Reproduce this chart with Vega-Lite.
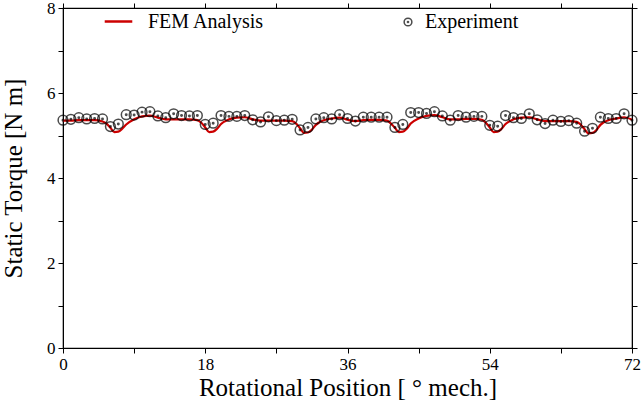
{
  "$schema": "https://vega.github.io/schema/vega-lite/v6.json",
  "width": 569,
  "height": 340,
  "autosize": "none",
  "padding": {"left": 63, "top": 8, "right": 10, "bottom": 52},
  "background": "white",
  "config": {
    "view": {"stroke": "black", "strokeWidth": 1.2},
    "font": "Liberation Serif",
    "axis": {
      "labelFont": "Liberation Serif",
      "titleFont": "Liberation Serif",
      "labelFontSize": 17,
      "titleFontSize": 25,
      "titleFontWeight": "normal",
      "labelColor": "black",
      "titleColor": "black",
      "tickColor": "black",
      "domainColor": "black",
      "tickSize": 5,
      "grid": false
    },
    "legend": {
      "labelFont": "Liberation Serif",
      "labelFontSize": 20,
      "labelColor": "black"
    }
  },
  "datasets": {
    "fem": [
      {"pos": 0, "torque": 5.35, "series": "FEM Analysis"},
      {"pos": 1, "torque": 5.35, "series": "FEM Analysis"},
      {"pos": 2, "torque": 5.36, "series": "FEM Analysis"},
      {"pos": 3, "torque": 5.36, "series": "FEM Analysis"},
      {"pos": 4, "torque": 5.36, "series": "FEM Analysis"},
      {"pos": 5, "torque": 5.33, "series": "FEM Analysis"},
      {"pos": 5.5, "torque": 5.28, "series": "FEM Analysis"},
      {"pos": 6, "torque": 5.18, "series": "FEM Analysis"},
      {"pos": 6.5, "torque": 5.08, "series": "FEM Analysis"},
      {"pos": 7, "torque": 5.09, "series": "FEM Analysis"},
      {"pos": 7.5, "torque": 5.16, "series": "FEM Analysis"},
      {"pos": 8, "torque": 5.26, "series": "FEM Analysis"},
      {"pos": 9, "torque": 5.38, "series": "FEM Analysis"},
      {"pos": 10, "torque": 5.45, "series": "FEM Analysis"},
      {"pos": 11, "torque": 5.47, "series": "FEM Analysis"},
      {"pos": 12, "torque": 5.42, "series": "FEM Analysis"},
      {"pos": 13, "torque": 5.38, "series": "FEM Analysis"},
      {"pos": 14, "torque": 5.38, "series": "FEM Analysis"},
      {"pos": 15, "torque": 5.38, "series": "FEM Analysis"},
      {"pos": 16, "torque": 5.38, "series": "FEM Analysis"},
      {"pos": 17, "torque": 5.36, "series": "FEM Analysis"},
      {"pos": 17.5, "torque": 5.30, "series": "FEM Analysis"},
      {"pos": 18, "torque": 5.19, "series": "FEM Analysis"},
      {"pos": 18.5, "torque": 5.08, "series": "FEM Analysis"},
      {"pos": 19, "torque": 5.09, "series": "FEM Analysis"},
      {"pos": 19.5, "torque": 5.16, "series": "FEM Analysis"},
      {"pos": 20, "torque": 5.27, "series": "FEM Analysis"},
      {"pos": 21, "torque": 5.38, "series": "FEM Analysis"},
      {"pos": 22, "torque": 5.42, "series": "FEM Analysis"},
      {"pos": 23, "torque": 5.43, "series": "FEM Analysis"},
      {"pos": 24, "torque": 5.38, "series": "FEM Analysis"},
      {"pos": 25, "torque": 5.35, "series": "FEM Analysis"},
      {"pos": 26, "torque": 5.35, "series": "FEM Analysis"},
      {"pos": 27, "torque": 5.35, "series": "FEM Analysis"},
      {"pos": 28, "torque": 5.35, "series": "FEM Analysis"},
      {"pos": 29, "torque": 5.34, "series": "FEM Analysis"},
      {"pos": 29.5, "torque": 5.28, "series": "FEM Analysis"},
      {"pos": 30, "torque": 5.17, "series": "FEM Analysis"},
      {"pos": 30.5, "torque": 5.06, "series": "FEM Analysis"},
      {"pos": 31, "torque": 5.07, "series": "FEM Analysis"},
      {"pos": 31.5, "torque": 5.14, "series": "FEM Analysis"},
      {"pos": 32, "torque": 5.25, "series": "FEM Analysis"},
      {"pos": 33, "torque": 5.36, "series": "FEM Analysis"},
      {"pos": 34, "torque": 5.40, "series": "FEM Analysis"},
      {"pos": 35, "torque": 5.42, "series": "FEM Analysis"},
      {"pos": 36, "torque": 5.37, "series": "FEM Analysis"},
      {"pos": 37, "torque": 5.34, "series": "FEM Analysis"},
      {"pos": 38, "torque": 5.36, "series": "FEM Analysis"},
      {"pos": 39, "torque": 5.37, "series": "FEM Analysis"},
      {"pos": 40, "torque": 5.37, "series": "FEM Analysis"},
      {"pos": 41, "torque": 5.35, "series": "FEM Analysis"},
      {"pos": 41.5, "torque": 5.28, "series": "FEM Analysis"},
      {"pos": 42, "torque": 5.18, "series": "FEM Analysis"},
      {"pos": 42.5, "torque": 5.08, "series": "FEM Analysis"},
      {"pos": 43, "torque": 5.09, "series": "FEM Analysis"},
      {"pos": 43.5, "torque": 5.16, "series": "FEM Analysis"},
      {"pos": 44, "torque": 5.28, "series": "FEM Analysis"},
      {"pos": 45, "torque": 5.40, "series": "FEM Analysis"},
      {"pos": 46, "torque": 5.46, "series": "FEM Analysis"},
      {"pos": 47, "torque": 5.48, "series": "FEM Analysis"},
      {"pos": 48, "torque": 5.43, "series": "FEM Analysis"},
      {"pos": 49, "torque": 5.38, "series": "FEM Analysis"},
      {"pos": 50, "torque": 5.38, "series": "FEM Analysis"},
      {"pos": 51, "torque": 5.39, "series": "FEM Analysis"},
      {"pos": 52, "torque": 5.39, "series": "FEM Analysis"},
      {"pos": 53, "torque": 5.37, "series": "FEM Analysis"},
      {"pos": 53.5, "torque": 5.30, "series": "FEM Analysis"},
      {"pos": 54, "torque": 5.19, "series": "FEM Analysis"},
      {"pos": 54.5, "torque": 5.08, "series": "FEM Analysis"},
      {"pos": 55, "torque": 5.09, "series": "FEM Analysis"},
      {"pos": 55.5, "torque": 5.16, "series": "FEM Analysis"},
      {"pos": 56, "torque": 5.27, "series": "FEM Analysis"},
      {"pos": 57, "torque": 5.38, "series": "FEM Analysis"},
      {"pos": 58, "torque": 5.42, "series": "FEM Analysis"},
      {"pos": 59, "torque": 5.43, "series": "FEM Analysis"},
      {"pos": 60, "torque": 5.38, "series": "FEM Analysis"},
      {"pos": 61, "torque": 5.34, "series": "FEM Analysis"},
      {"pos": 62, "torque": 5.34, "series": "FEM Analysis"},
      {"pos": 63, "torque": 5.34, "series": "FEM Analysis"},
      {"pos": 64, "torque": 5.34, "series": "FEM Analysis"},
      {"pos": 65, "torque": 5.32, "series": "FEM Analysis"},
      {"pos": 65.5, "torque": 5.26, "series": "FEM Analysis"},
      {"pos": 66, "torque": 5.15, "series": "FEM Analysis"},
      {"pos": 66.5, "torque": 5.05, "series": "FEM Analysis"},
      {"pos": 67, "torque": 5.06, "series": "FEM Analysis"},
      {"pos": 67.5, "torque": 5.13, "series": "FEM Analysis"},
      {"pos": 68, "torque": 5.25, "series": "FEM Analysis"},
      {"pos": 69, "torque": 5.36, "series": "FEM Analysis"},
      {"pos": 70, "torque": 5.40, "series": "FEM Analysis"},
      {"pos": 71, "torque": 5.43, "series": "FEM Analysis"},
      {"pos": 72, "torque": 5.37, "series": "FEM Analysis"}
    ],
    "exp": [
      {"pos": 0, "torque": 5.36, "series": "Experiment"},
      {"pos": 1, "torque": 5.38, "series": "Experiment"},
      {"pos": 2, "torque": 5.42, "series": "Experiment"},
      {"pos": 3, "torque": 5.39, "series": "Experiment"},
      {"pos": 4, "torque": 5.40, "series": "Experiment"},
      {"pos": 5, "torque": 5.39, "series": "Experiment"},
      {"pos": 6, "torque": 5.21, "series": "Experiment"},
      {"pos": 7, "torque": 5.27, "series": "Experiment"},
      {"pos": 8, "torque": 5.49, "series": "Experiment"},
      {"pos": 9, "torque": 5.48, "series": "Experiment"},
      {"pos": 10, "torque": 5.55, "series": "Experiment"},
      {"pos": 11, "torque": 5.56, "series": "Experiment"},
      {"pos": 12, "torque": 5.46, "series": "Experiment"},
      {"pos": 13, "torque": 5.42, "series": "Experiment"},
      {"pos": 14, "torque": 5.51, "series": "Experiment"},
      {"pos": 15, "torque": 5.47, "series": "Experiment"},
      {"pos": 16, "torque": 5.46, "series": "Experiment"},
      {"pos": 17, "torque": 5.47, "series": "Experiment"},
      {"pos": 18, "torque": 5.26, "series": "Experiment"},
      {"pos": 19, "torque": 5.29, "series": "Experiment"},
      {"pos": 20, "torque": 5.47, "series": "Experiment"},
      {"pos": 21, "torque": 5.45, "series": "Experiment"},
      {"pos": 22, "torque": 5.45, "series": "Experiment"},
      {"pos": 23, "torque": 5.47, "series": "Experiment"},
      {"pos": 24, "torque": 5.37, "series": "Experiment"},
      {"pos": 25, "torque": 5.32, "series": "Experiment"},
      {"pos": 26, "torque": 5.44, "series": "Experiment"},
      {"pos": 27, "torque": 5.35, "series": "Experiment"},
      {"pos": 28, "torque": 5.36, "series": "Experiment"},
      {"pos": 29, "torque": 5.38, "series": "Experiment"},
      {"pos": 30, "torque": 5.13, "series": "Experiment"},
      {"pos": 31, "torque": 5.19, "series": "Experiment"},
      {"pos": 32, "torque": 5.39, "series": "Experiment"},
      {"pos": 33, "torque": 5.42, "series": "Experiment"},
      {"pos": 34, "torque": 5.39, "series": "Experiment"},
      {"pos": 35, "torque": 5.49, "series": "Experiment"},
      {"pos": 36, "torque": 5.40, "series": "Experiment"},
      {"pos": 37, "torque": 5.34, "series": "Experiment"},
      {"pos": 38, "torque": 5.43, "series": "Experiment"},
      {"pos": 39, "torque": 5.43, "series": "Experiment"},
      {"pos": 40, "torque": 5.43, "series": "Experiment"},
      {"pos": 41, "torque": 5.43, "series": "Experiment"},
      {"pos": 42, "torque": 5.19, "series": "Experiment"},
      {"pos": 43, "torque": 5.26, "series": "Experiment"},
      {"pos": 44, "torque": 5.54, "series": "Experiment"},
      {"pos": 45, "torque": 5.54, "series": "Experiment"},
      {"pos": 46, "torque": 5.52, "series": "Experiment"},
      {"pos": 47, "torque": 5.56, "series": "Experiment"},
      {"pos": 48, "torque": 5.46, "series": "Experiment"},
      {"pos": 49, "torque": 5.36, "series": "Experiment"},
      {"pos": 50, "torque": 5.47, "series": "Experiment"},
      {"pos": 51, "torque": 5.43, "series": "Experiment"},
      {"pos": 52, "torque": 5.45, "series": "Experiment"},
      {"pos": 53, "torque": 5.45, "series": "Experiment"},
      {"pos": 54, "torque": 5.24, "series": "Experiment"},
      {"pos": 55, "torque": 5.22, "series": "Experiment"},
      {"pos": 56, "torque": 5.47, "series": "Experiment"},
      {"pos": 57, "torque": 5.42, "series": "Experiment"},
      {"pos": 58, "torque": 5.40, "series": "Experiment"},
      {"pos": 59, "torque": 5.51, "series": "Experiment"},
      {"pos": 60, "torque": 5.37, "series": "Experiment"},
      {"pos": 61, "torque": 5.28, "series": "Experiment"},
      {"pos": 62, "torque": 5.36, "series": "Experiment"},
      {"pos": 63, "torque": 5.33, "series": "Experiment"},
      {"pos": 64, "torque": 5.35, "series": "Experiment"},
      {"pos": 65, "torque": 5.29, "series": "Experiment"},
      {"pos": 66, "torque": 5.10, "series": "Experiment"},
      {"pos": 67, "torque": 5.17, "series": "Experiment"},
      {"pos": 68, "torque": 5.43, "series": "Experiment"},
      {"pos": 69, "torque": 5.40, "series": "Experiment"},
      {"pos": 70, "torque": 5.40, "series": "Experiment"},
      {"pos": 71, "torque": 5.51, "series": "Experiment"},
      {"pos": 72, "torque": 5.36, "series": "Experiment"}
    ]
  },
  "layer": [
    {
      "data": {"name": "fem"},
      "mark": {"type": "line", "interpolate": "monotone", "strokeWidth": 2.2},
      "encoding": {
        "x": {
          "field": "pos", "type": "quantitative",
          "scale": {"domain": [0, 72], "nice": false, "zero": false},
          "axis": {
            "orient": "bottom",
            "values": [0, 9, 18, 27, 36, 45, 54, 63, 72],
            "labelExpr": "datum.value % 18 == 0 ? datum.label : ''",
            "labelPadding": 3,
            "labelFlush": false,
            "title": "Rotational Position [ ° mech.]",
            "titlePadding": 3
          }
        },
        "y": {
          "field": "torque", "type": "quantitative",
          "scale": {"domain": [0, 8], "nice": false},
          "axis": {
            "orient": "left",
            "values": [0, 1, 2, 3, 4, 5, 6, 7, 8],
            "labelExpr": "datum.value % 2 == 0 ? datum.label : ''",
            "labelPadding": 3,
            "labelFlush": false,
            "title": "Static Torque [N m]",
            "titlePadding": 20
          }
        },
        "color": {
          "field": "series", "type": "nominal",
          "scale": {"domain": ["FEM Analysis"], "range": ["#cc0000"]},
          "legend": {
            "orient": "none", "legendX": 40, "legendY": -2,
            "title": null, "padding": 0,
            "symbolType": "stroke", "symbolSize": 760, "symbolStrokeWidth": 2.5,
            "labelOffset": 14
          }
        }
      }
    },
    {
      "data": {"name": "exp"},
      "mark": {"type": "point", "filled": false, "color": "black", "strokeWidth": 1.5, "size": 95},
      "encoding": {
        "x": {
          "field": "pos", "type": "quantitative",
          "axis": {
            "orient": "top",
            "values": [0, 9, 18, 27, 36, 45, 54, 63, 72],
            "labels": false, "title": null
          }
        },
        "y": {
          "field": "torque", "type": "quantitative",
          "axis": {
            "orient": "right",
            "values": [0, 1, 2, 3, 4, 5, 6, 7, 8],
            "labels": false, "title": null
          }
        },
        "shape": {
          "field": "series", "type": "nominal",
          "scale": {
            "domain": ["Experiment"],
            "range": ["M-1,0A1,1 0 1,0 1,0A1,1 0 1,0 -1,0ZM-0.15,0A0.15,0.15 0 1,0 0.15,0A0.15,0.15 0 1,0 -0.15,0Z"]
          },
          "legend": {
            "orient": "none", "legendX": 335, "legendY": 4,
            "title": null, "padding": 0,
            "symbolSize": 60, "symbolStrokeWidth": 1.5,
            "symbolStrokeColor": "black", "symbolFillColor": "transparent",
            "labelOffset": 7
          }
        }
      }
    }
  ],
  "resolve": {"axis": {"x": "independent", "y": "independent"}}
}
